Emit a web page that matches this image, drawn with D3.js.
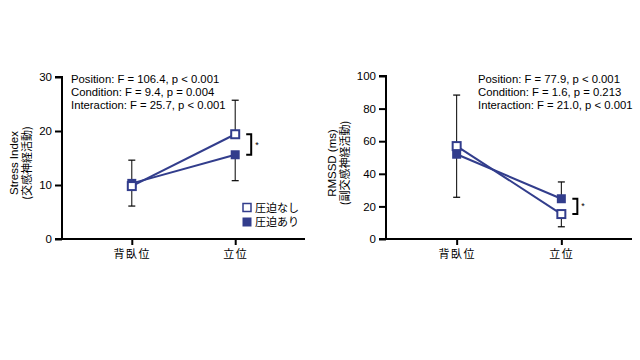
<!DOCTYPE html>
<html><head><meta charset="utf-8">
<script src="https://cdn.jsdelivr.net/npm/d3@7"></script>
<style>
body{margin:0;background:#fff;}
text{font-family:"Liberation Sans",Arial,"Noto Sans CJK JP",sans-serif;}
</style></head>
<body><svg id="c" width="640" height="360"></svg>
<script>
const categories = ["背臥位","立位"];
const legendLabels = ["圧迫なし","圧迫あり"];
// Stress Index
const stressNone = [9.8, 19.4];
const stressWith = [10.3, 15.6];
const stressSdNone = [3.7, 6.3];
const stressSdWith = [4.3, 4.8];
const stressTicks = [0,10,20,30];
const stressStats = ["Position: F = 106.4, p < 0.001","Condition: F = 9.4, p = 0.004","Interaction: F = 25.7, p < 0.001"];
// RMSSD
const rmssdNone = [57, 15.3];
const rmssdWith = [52, 24.7];
const rmssdSdNone = [31.3, 7.8];
const rmssdSdWith = [26.4, 10.3];
const rmssdTicks = [0,20,40,60,80,100];
const rmssdStats = ["Position: F = 77.9, p < 0.001","Condition: F = 1.6, p = 0.213","Interaction: F = 21.0, p < 0.001"];

const navy = "#323d8c";
const svg = d3.select("#c");
const jp = '"Noto Sans CJK JP",sans-serif';

function panel(o){
  const g = svg.append("g");
  const x = d3.scalePoint().domain(categories).range([o.x0,o.x1]).padding(0.675);
  const y = d3.scaleLinear().domain([0,o.max]).range([239,o.top]);
  const ya = g.append("g").attr("transform",`translate(${o.x0},0)`)
    .call(d3.axisLeft(y).tickValues(o.ticks).tickSize(7).tickPadding(3));
  ya.selectAll("text").attr("font-size",11.5).attr("fill","#000").attr("font-family","Liberation Sans,Arial,sans-serif");
  const xa = g.append("g").attr("transform",`translate(0,239)`)
    .call(d3.axisBottom(x).tickSize(6).tickPadding(5).tickSizeOuter(0));
  xa.selectAll("text").attr("font-size",11).attr("fill","#000").attr("font-family",jp).attr("letter-spacing","1.5px");
  [ya,xa].forEach(a=>{a.selectAll("path,line").attr("stroke","#000").attr("stroke-width",2);});
  ya.select(".domain").attr("d",`M-7,${y(0)}H0V${y(o.max)}H-7`);
  xa.select(".domain").attr("d",`M${o.x0},0H${o.x1}`);
  const tx = g.append("text").attr("transform",`translate(${o.tx},163) rotate(-90)`).attr("text-anchor","middle").attr("font-size",11.5);
  tx.append("tspan").attr("x",0).attr("dy",0).text(o.t1);
  tx.append("tspan").attr("x",0).attr("dy",12.5).attr("font-family",jp).attr("font-size",11).text(o.t2);
  o.stats.forEach((s,i)=>g.append("text").attr("x",o.sx).attr("y",83+i*13).attr("font-size",11.3).text(s));
  const line = d3.line().x((d,i)=>x(categories[i])).y(d=>y(d));
  [o.with,o.none].forEach(arr=>g.append("path").attr("d",line(arr)).attr("fill","none").attr("stroke",navy).attr("stroke-width",2));
  categories.forEach((c,i)=>{
    const up = o.none[i]>=o.with[i];
    const ends = [[o.none[i], o.none[i]+(up?1:-1)*o.sdNone[i]],[o.with[i], o.with[i]+(up?-1:1)*o.sdWith[i]]];
    ends.forEach(([m,e])=>{
      g.append("line").attr("x1",x(c)).attr("x2",x(c)).attr("y1",y(m)).attr("y2",y(e)).attr("stroke","#000").attr("stroke-width",1);
      g.append("line").attr("x1",x(c)-3.5).attr("x2",x(c)+3.5).attr("y1",y(e)).attr("y2",y(e)).attr("stroke","#000").attr("stroke-width",1.2);
    });
  });
  categories.forEach((c,i)=>{
    g.append("rect").attr("x",x(c)-4.5).attr("y",y(o.with[i])-4.5).attr("width",9).attr("height",9).attr("fill",navy);
  });
  categories.forEach((c,i)=>{
    g.append("rect").attr("x",x(c)-4).attr("y",y(o.none[i])-4).attr("width",8).attr("height",8).attr("fill","#fff").attr("stroke",navy).attr("stroke-width",2);
  });
  const bx = x(categories[1]);
  const y1 = y(o.none[1]), y2 = y(o.with[1]);
  g.append("path").attr("d",`M${bx+11},${y1}H${bx+16}V${y2}H${bx+11}`).attr("fill","none").attr("stroke","#000").attr("stroke-width",2);
  g.append("text").attr("x",bx+20).attr("y",(y1+y2)/2+3).attr("font-size",9).text("*");
  return {x,y};
}

panel({x0:62,x1:305,max:30,top:77,ticks:stressTicks,none:stressNone,with:stressWith,sdNone:stressSdNone,sdWith:stressSdWith,
  stats:stressStats,sx:71,tx:18,t1:"Stress Index",t2:"(交感神経活動)"});
panel({x0:386,x1:632,max:100,top:76,ticks:rmssdTicks,none:rmssdNone,with:rmssdWith,sdNone:rmssdSdNone,sdWith:rmssdSdWith,
  stats:rmssdStats,sx:478,tx:336,t1:"RMSSD (ms)",t2:"(副交感神経活動)"});

const lg = svg.append("g");
legendLabels.forEach((l,i)=>{
  const yy = 207.5+i*14.5;
  if(i===0) lg.append("rect").attr("x",243).attr("y",yy-4).attr("width",8).attr("height",8).attr("fill","#fff").attr("stroke",navy).attr("stroke-width",1.5);
  else lg.append("rect").attr("x",242.5).attr("y",yy-4.5).attr("width",9).attr("height",9).attr("fill",navy);
  lg.append("text").attr("x",255).attr("y",yy+4).attr("font-size",11).attr("font-family",jp).text(l);
});
</script></body></html>
